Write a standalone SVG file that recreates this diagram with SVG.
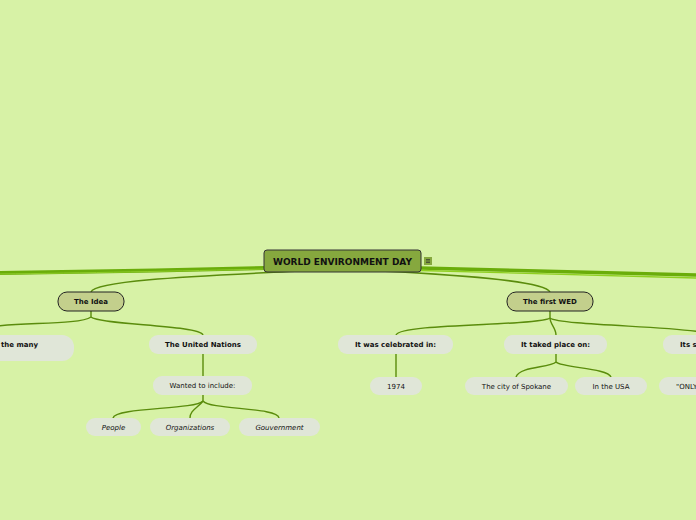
<svg xmlns="http://www.w3.org/2000/svg" width="696" height="520" viewBox="0 0 696 520">
<style>
.t{font-family:"DejaVu Sans","Liberation Sans",sans-serif;font-size:7px;fill:#111;text-anchor:middle}
.b{font-weight:bold}
.i{font-style:italic}
.sub{fill:#e0e6d8}
.main{fill:#c3cf8c;stroke:#222;stroke-width:1}
.ln{fill:none;stroke:#5a8c0c;stroke-width:1.4}
</style>
<rect width="696" height="520" fill="#d7f2a6"/>
<g id="connectors">
<path d="M266,268 C180,270 80,272 0,273" fill="none" stroke="#6aad0a" stroke-width="4"/>
<path d="M266,269 C180,271 80,273 0,274" fill="none" stroke="#8fcc2a" stroke-width="1"/>
<path d="M420,268 C520,271 620,273 696,275" fill="none" stroke="#6aad0a" stroke-width="3.5"/>
<path d="M420,270.5 C520,273.5 620,275.5 696,278" fill="none" stroke="#8fd020" stroke-width="1.3"/>
<path class="ln" d="M300,271 C200,276 95,280 91,292"/>
<path class="ln" d="M380,271 C480,276 545,282 550,292"/>
<path class="ln" d="M91,311 L91,317 C80,325 20,322 -10,327"/>
<path class="ln" d="M91,317 C100,325 200,325 203,335"/>
<path class="ln" d="M203,354 L203,376"/>
<path class="ln" d="M203,395 L203,401 C195,410 115,407 113,418"/>
<path class="ln" d="M203,401 C198,408 190,410 190,418"/>
<path class="ln" d="M203,401 C210,410 278,407 279,418"/>
<path class="ln" d="M550,311 L550,318 C540,326 400,323 396,335"/>
<path class="ln" d="M550,318 C550,324 556,328 556,335"/>
<path class="ln" d="M550,318 C560,326 690,326 710,334"/>
<path class="ln" d="M396,354 L396,377"/>
<path class="ln" d="M556,354 L556,362 C550,368 520,366 516,377"/>
<path class="ln" d="M556,362 C562,368 608,368 611,377"/>
</g>
<g id="center">
<rect x="264" y="250" width="157" height="22" rx="3" fill="#86a83e" stroke="#333" stroke-width="1"/>
<text class="t b" x="342.5" y="265" style="font-size:9px">WORLD ENVIRONMENT DAY</text>
<rect x="424" y="257" width="8" height="8" fill="#86a83e"/>
<path d="M426,259.5h4M426,261h4M426,262.5h4" stroke="#333" stroke-width="0.7"/>
</g>
<g id="idea">
<rect class="main" x="58" y="292" width="66" height="19" rx="9"/>
<text class="t b" x="91" y="304">The Idea</text>
</g>
<g id="first-wed">
<rect class="main" x="507" y="292" width="86" height="19" rx="9"/>
<text class="t b" x="550" y="304">The first WED</text>
</g>
<g id="the-many">
<rect class="sub" x="-60" y="335" width="134" height="26" rx="12"/>
<text class="t b" x="1" y="347" style="text-anchor:start">the many</text>
</g>
<g id="united-nations">
<rect class="sub" x="149" y="335" width="108" height="19" rx="9"/>
<text class="t b" x="203" y="347">The United Nations</text>
</g>
<g id="wanted">
<rect class="sub" x="153" y="376" width="99" height="19" rx="9"/>
<text class="t" x="202.5" y="388">Wanted to include:</text>
</g>
<g id="people">
<rect class="sub" x="86" y="418" width="55" height="18" rx="9"/>
<text class="t i" x="113.5" y="430">People</text>
</g>
<g id="organizations">
<rect class="sub" x="150" y="418" width="80" height="18" rx="9"/>
<text class="t i" x="190" y="430">Organizations</text>
</g>
<g id="gouvernment">
<rect class="sub" x="239" y="418" width="81" height="18" rx="9"/>
<text class="t i" x="279.5" y="430">Gouvernment</text>
</g>
<g id="celebrated">
<rect class="sub" x="338" y="335" width="115" height="19" rx="9"/>
<text class="t b" x="395.5" y="347">It was celebrated in:</text>
</g>
<g id="taked">
<rect class="sub" x="504" y="335" width="103" height="19" rx="9"/>
<text class="t b" x="555.5" y="347">It taked place on:</text>
</g>
<g id="its-s">
<rect class="sub" x="663" y="335" width="80" height="19" rx="9"/>
<text class="t b" x="680" y="347" style="text-anchor:start">Its s</text>
</g>
<g id="y1974">
<rect class="sub" x="370" y="377" width="52" height="18" rx="9"/>
<text class="t" x="396" y="389">1974</text>
</g>
<g id="spokane">
<rect class="sub" x="465" y="377" width="103" height="18" rx="9"/>
<text class="t" x="516.5" y="389">The city of Spokane</text>
</g>
<g id="usa">
<rect class="sub" x="575" y="377" width="72" height="18" rx="9"/>
<text class="t" x="611" y="389">In the USA</text>
</g>
<g id="only">
<rect class="sub" x="659" y="377" width="80" height="18" rx="9"/>
<text class="t" x="676" y="389" style="text-anchor:start">"ONLY</text>
</g>
</svg>
